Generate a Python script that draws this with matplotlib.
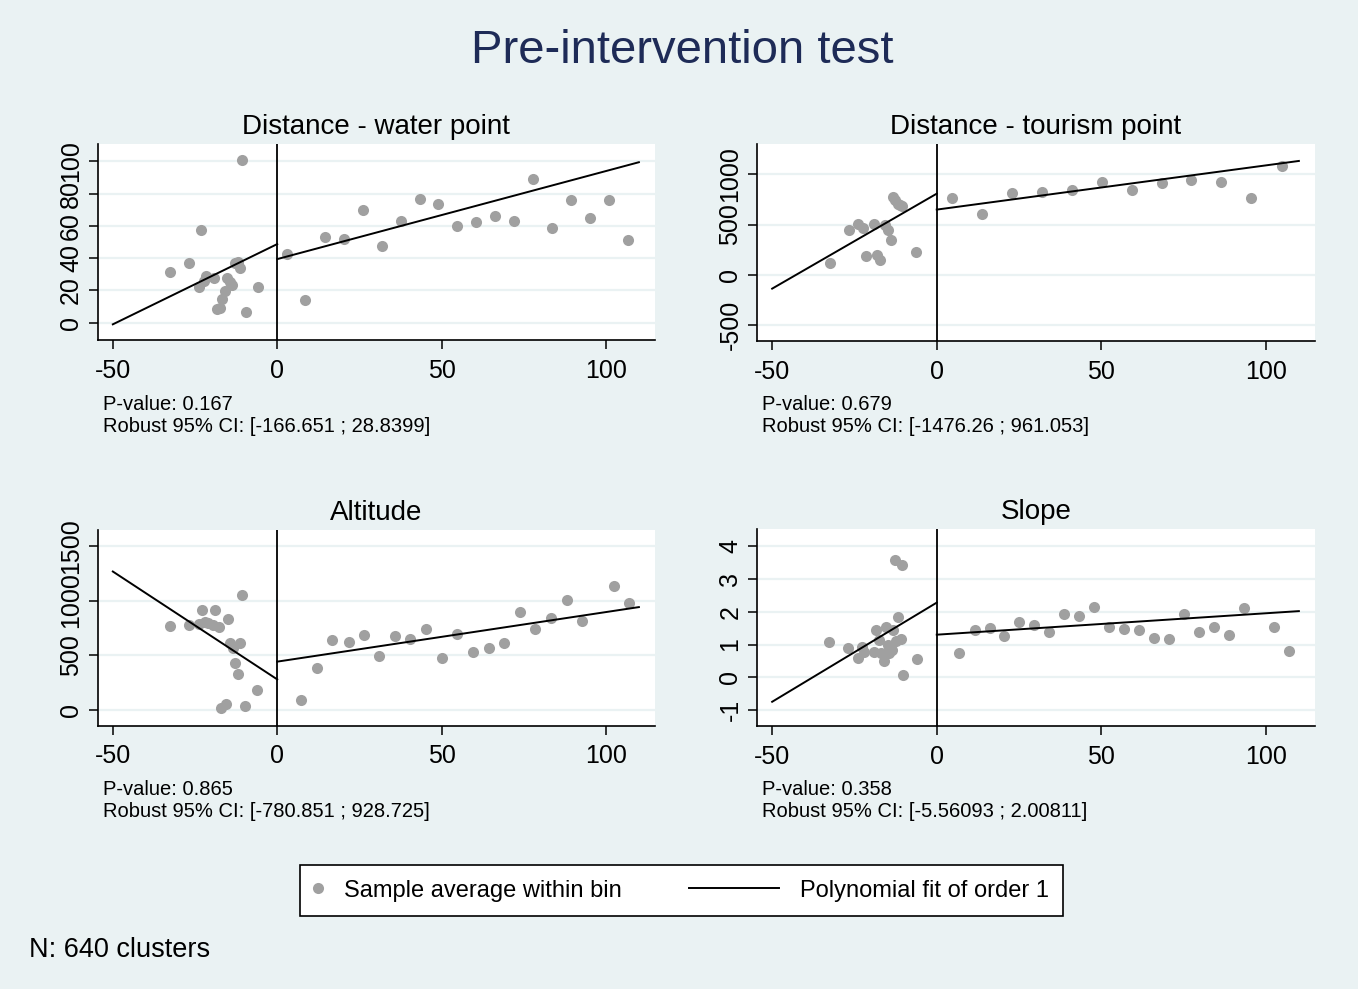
#!/usr/bin/env python3
"""Pre-intervention test: binned sample means and order-1 fits either side of the cutoff.

Four panels (water point, tourism point, altitude, slope), Stata-like styling.
Writes out.png.
"""

import matplotlib

matplotlib.use("Agg")
import matplotlib.pyplot as plt
import numpy as np
from matplotlib.legend_handler import HandlerLine2D
from matplotlib.lines import Line2D

plt.rcParams["font.family"] = ["Liberation Sans", "DejaVu Sans"]
plt.rcParams["axes.unicode_minus"] = False

BG = "#EAF2F3"
DOT = "#A0A0A0"
NAVY = "#1E2B57"
W, H = 1358, 989

XTICKS = [-50, 0, 50, 100]
XLIM = (-54.6, 114.9)
FIT_LX = [-50, 0]
FIT_RX = [0, 110]

# --- Distance - water point
water_lx = [-32.5, -26.9, -23.8, -23.1, -22.4, -21.6, -19.1, -18.3, -17.5, -16.8,
            -16.0, -15.2, -14.5, -13.7, -12.7, -12.0, -11.3, -10.6, -9.6, -5.8]
water_ly = [31.5, 36.7, 22.3, 57.3, 26.0, 28.9, 27.4, 8.2, 8.9, 14.4,
            19.8, 27.4, 25.4, 23.3, 37.1, 37.7, 34.0, 100.5, 6.4, 21.9]
water_rx = [2.9, 8.6, 14.4, 20.2, 26.0, 31.8, 37.6, 43.3, 49.0, 54.8,
            60.5, 66.3, 72.0, 77.8, 83.6, 89.3, 95.0, 100.8, 106.6]
water_ry = [42.3, 14.0, 52.8, 51.6, 70.1, 47.6, 63.3, 76.9, 73.4, 59.8,
            62.3, 66.0, 63.1, 89.3, 58.8, 76.3, 64.9, 75.7, 51.1]
water_fit_l = [-1.0, 48.7]
water_fit_r = [39.4, 99.4]

# --- Distance - tourism point
tour_lx = [-32.5, -26.6, -24.0, -22.3, -21.5, -19.1, -18.1, -17.2, -15.7,
           -14.9, -13.8, -13.3, -12.6, -11.8, -11.1, -10.5, -6.2]
tour_ly = [116, 450, 510, 470, 189, 510, 195, 146, 493,
           444, 344, 775, 748, 709, 692, 685, 222]
tour_rx = [4.7, 13.7, 22.8, 31.9, 41.0, 50.2, 59.2, 68.3, 77.3, 86.4, 95.6, 104.8]
tour_ry = [765, 606, 817, 825, 841, 924, 844, 911, 944, 924, 768, 1084]
tour_fit_l = [-139, 808]
tour_fit_r = [649, 1134]

# --- Altitude
alt_lx = [-32.5, -26.7, -23.9, -23.0, -22.1, -21.1, -19.6, -18.8, -17.7, -17.1,
          -15.5, -14.9, -14.3, -13.5, -12.7, -12.0, -11.3, -10.6, -9.8, -6.2]
alt_ly = [771, 777, 783, 915, 802, 793, 777, 909, 756, 15,
          52, 829, 616, 564, 433, 332, 616, 1049, 34, 186]
alt_rx = [7.2, 12.0, 16.7, 21.7, 26.3, 31.1, 35.9, 40.5, 45.3, 50.2, 54.8,
          59.6, 64.3, 69.0, 73.8, 78.5, 83.3, 88.0, 92.8, 102.3, 107.1]
alt_ry = [88, 387, 635, 621, 682, 493, 673, 648, 737, 475, 691,
          530, 566, 612, 895, 740, 840, 1004, 813, 1132, 974]
alt_fit_l = [1265, 280]
alt_fit_r = [442, 940]

# --- Slope
slope_lx = [-32.7, -26.9, -23.8, -22.8, -22.0, -19.2, -18.6, -17.6, -16.9, -16.0, -15.4,
            -14.7, -14.4, -13.6, -13.3, -12.8, -12.3, -11.7, -11.0, -10.7, -10.3, -6.0]
slope_ly = [1.09, 0.89, 0.58, 0.92, 0.78, 0.76, 1.45, 1.14, 0.73, 0.51, 1.53,
            0.99, 0.73, 0.84, 1.45, 3.58, 1.12, 1.83, 1.16, 3.43, 0.08, 0.55]
slope_rx = [6.8, 11.5, 16.1, 20.5, 25.1, 29.6, 34.1, 38.7, 43.3, 47.8, 52.4,
            57.0, 61.5, 66.0, 70.6, 75.2, 79.7, 84.2, 88.8, 93.3, 102.3, 107.0]
slope_ry = [0.73, 1.44, 1.50, 1.25, 1.70, 1.60, 1.38, 1.92, 1.87, 2.16, 1.54,
            1.47, 1.44, 1.21, 1.17, 1.93, 1.38, 1.55, 1.28, 2.12, 1.52, 0.80]
slope_fit_l = [-0.75, 2.28]
slope_fit_r = [1.30, 2.02]


def px_rect(left, top, right, bottom):
    return [left / W, 1 - bottom / H, (right - left) / W, (bottom - top) / H]


def panel(fig, rect, title, lx, ly, rx, ry, fit_l, fit_r, yticks, ylim,
          pval, ci, text_xy):
    ax = fig.add_axes(px_rect(*rect))
    ax.set_facecolor("white")
    ax.set_axisbelow(True)
    ax.grid(axis="y", color=BG, lw=1.6)
    ax.scatter(lx + rx, ly + ry, s=64, color=DOT, linewidths=0, zorder=3)
    ax.plot(FIT_LX, fit_l, color="black", lw=1.4, zorder=4)
    ax.plot(FIT_RX, fit_r, color="black", lw=1.4, zorder=4)
    ax.axvline(0, color="black", lw=1.3, zorder=4)
    ax.set_xlim(XLIM)
    ax.set_ylim(ylim)
    ax.set_xticks(XTICKS)
    ax.set_yticks(yticks)
    for side in ("top", "right"):
        ax.spines[side].set_visible(False)
    for side in ("left", "bottom"):
        ax.spines[side].set_linewidth(1.2)
    ax.tick_params(direction="out", length=6.5, width=1.1, labelsize=18)
    ax.tick_params(axis="x", pad=7)
    ax.tick_params(axis="y", pad=4, labelrotation=90)
    for lab in ax.get_yticklabels():
        lab.set_va("center")
    ax.set_title(title, fontsize=20, pad=7.5)

    x, y = text_xy
    fig.text(x / W, 1 - y / H, f"P-value: {pval}", fontsize=14.5, va="baseline")
    fig.text(x / W, 1 - (y + 21.7) / H, f"Robust 95% CI: {ci}", fontsize=14.5,
             va="baseline")
    return ax


class LongLineHandler(HandlerLine2D):
    # line sample reaches back into the column gap, like Stata's legend key
    def get_xdata(self, legend, xdescent, ydescent, width, height, fontsize):
        right = width - xdescent
        return np.array([right - 3.8 * fontsize, right]), np.array([right])


def main():
    fig = plt.figure(figsize=(W / 100, H / 100), dpi=100, facecolor=BG)

    fig.text(682 / W, 1 - 63.3 / H, "Pre-intervention test", fontsize=34,
             color=NAVY, ha="center", va="baseline")

    panel(fig, (97.7, 144.3, 655, 340), "Distance - water point",
          water_lx, water_ly, water_rx, water_ry, water_fit_l, water_fit_r,
          [0, 20, 40, 60, 80, 100], (-10.7, 110.5),
          "0.167", "[-166.651 ; 28.8399]", (102.7, 410))
    panel(fig, (757, 144.3, 1315, 341), "Distance - tourism point",
          tour_lx, tour_ly, tour_rx, tour_ry, tour_fit_l, tour_fit_r,
          [-500, 0, 500, 1000], (-661, 1300),
          "0.679", "[-1476.26 ; 961.053]", (762.5, 410))
    panel(fig, (97.7, 530, 655, 725.7), "Altitude",
          alt_lx, alt_ly, alt_rx, alt_ry, alt_fit_l, alt_fit_r,
          [0, 500, 1000, 1500], (-143, 1644),
          "0.865", "[-780.851 ; 928.725]", (102.7, 795))
    panel(fig, (757, 529.3, 1315, 726), "Slope",
          slope_lx, slope_ly, slope_rx, slope_ry, slope_fit_l, slope_fit_r,
          [-1, 0, 1, 2, 3, 4], (-1.49, 4.52),
          "0.358", "[-5.56093 ; 2.00811]", (762.5, 795))

    dot_handle = Line2D([], [], marker="o", ls="none", color=DOT,
                        markersize=8, markeredgewidth=0)
    line_handle = Line2D([], [], color="black", lw=1.4)
    leg = fig.legend([dot_handle, line_handle],
                     ["Sample average within bin", "Polynomial fit of order 1"],
                     loc="center", bbox_to_anchor=(681.5 / W, 1 - 890.5 / H),
                     ncol=2, fontsize=17, handlelength=0.35, handletextpad=0.9,
                     columnspacing=6.3, borderpad=0.62, frameon=True,
                     fancybox=False, edgecolor="black", facecolor="white",
                     framealpha=1,
                     handler_map={line_handle: LongLineHandler()})
    leg.get_frame().set_linewidth(1.2)

    fig.text(29 / W, 1 - 957 / H, "N: 640 clusters", fontsize=19.5, va="baseline")

    fig.savefig("out.png", dpi=100, facecolor=BG)
    plt.close(fig)


if __name__ == "__main__":
    main()
